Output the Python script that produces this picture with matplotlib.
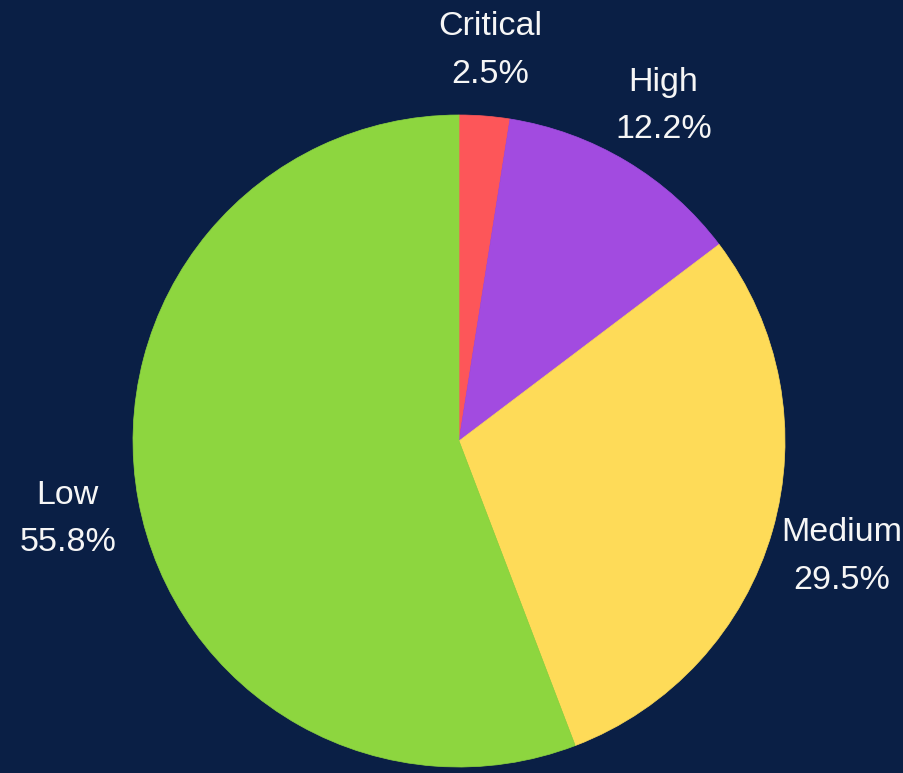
import matplotlib.pyplot as plt

categories = ["Critical", "High", "Medium", "Low"]
shares = [2.5, 12.2, 29.5, 55.8]
colors = ["#fd5659", "#a24be0", "#fedb58", "#8dd63f"]

BG = "#0a1f45"
W, H = 904, 773

fig = plt.figure(figsize=(W / 100, H / 100), dpi=100)
fig.patch.set_facecolor(BG)
ax = fig.add_axes([0, 0, 1, 1])
ax.set_facecolor(BG)

labels = [f"{c}\n{v:.1f}%" for c, v in zip(categories, shares)]
wedges, texts = ax.pie(
    shares,
    labels=labels,
    colors=colors,
    startangle=90,
    counterclock=False,
    center=(459, H - 441),
    radius=326,
    labeldistance=1.22,
    frame=True,
    textprops={"fontsize": 24.5, "color": "#f6f6f6", "family": "Liberation Sans"},
)
for w in wedges:
    w.set_edgecolor(w.get_facecolor())
    w.set_linewidth(0.5)
for t in texts:
    t.set_ha("center")
    t.set_va("center")
    t.set_linespacing(1.7)
    x, y = t.get_position()
    t.set_position((x, y - 6))

ax.set_xlim(0, W)
ax.set_ylim(0, H)
ax.set_aspect("equal")
ax.axis("off")

fig.savefig("out.png", dpi=100, facecolor=BG)
